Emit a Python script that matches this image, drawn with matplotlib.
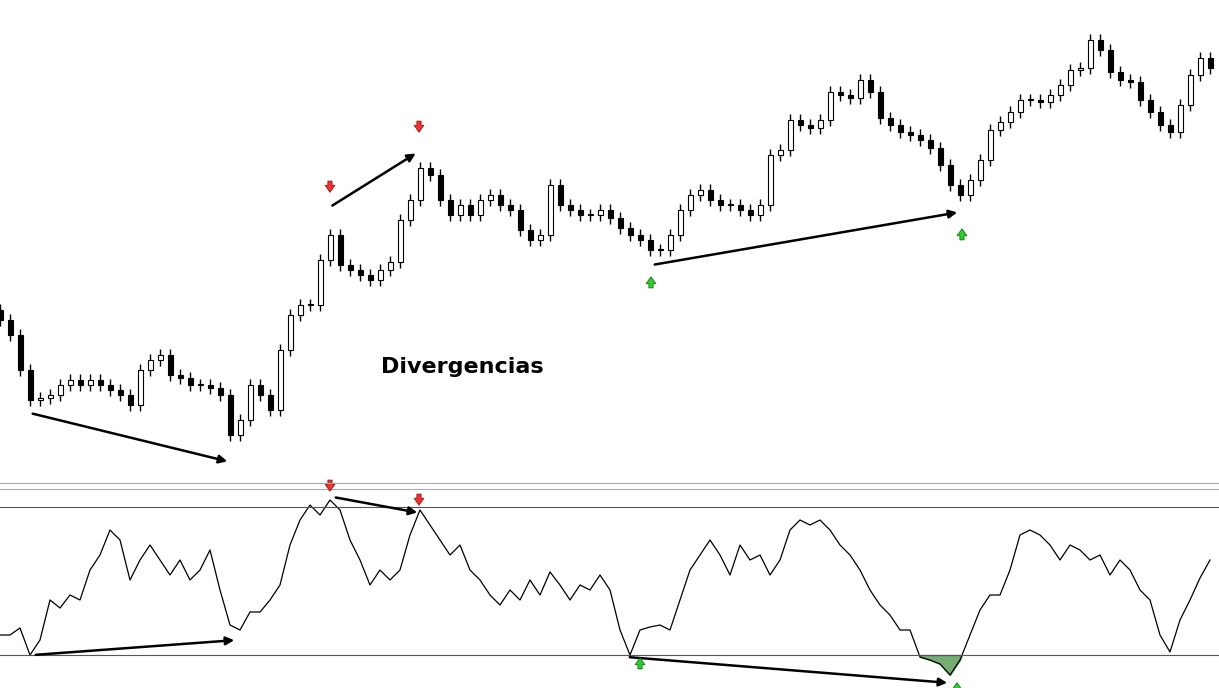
import numpy as np
import matplotlib
matplotlib.use("Agg")
import matplotlib.pyplot as plt

# --- DATA (one candle per step) ---
closes = [380, 365, 330, 300, 302, 305, 315, 320, 315, 320, 315, 310, 305, 295, 330, 340,
          345, 325, 322, 315, 315, 312, 305, 265, 280, 315, 305, 290, 350, 385, 395, 395,
          440, 465, 435, 430, 425, 420, 430, 438, 480, 500, 532, 525, 500, 485, 495, 485,
          500, 505, 495, 490, 470, 460, 465, 515, 495, 490, 485, 485, 490, 482, 472, 465,
          460, 450, 450, 465, 490, 505, 510, 500, 495, 495, 490, 485, 495, 545, 550, 580,
          575, 572, 580, 608, 605, 602, 620, 608, 582, 575, 568, 565, 560, 552, 535, 515,
          505, 520, 540, 570, 578, 588, 600, 600, 598, 605, 615, 630, 632, 660, 650, 628,
          620, 618, 600, 588, 575, 568, 595, 625, 642, 632]
osc = [53, 53, 60, 33, 48, 88, 80, 93, 88, 118, 133, 158, 148, 108, 128, 143,
       128, 113, 128, 108, 118, 138, 98, 63, 58, 76, 76, 88, 103, 143, 168, 183,
       173, 188, 178, 148, 128, 103, 118, 108, 118, 153, 178, 163, 148, 133, 143, 118,
       108, 93, 83, 98, 88, 108, 93, 116, 103, 88, 103, 98, 113, 98, 58, 33,
       58, 61, 63, 58, 88, 118, 133, 148, 133, 113, 143, 128, 133, 113, 128, 158,
       168, 163, 168, 158, 143, 133, 118, 98, 83, 73, 58, 58, 31, 28, 24, 13,
       28, 53, 78, 93, 93, 118, 153, 158, 153, 143, 128, 143, 138, 128, 133, 113,
       128, 118, 98, 88, 53, 36, 68, 88, 110, 128]
upper_level, lower_level = 181, 33
wick = 6

n = len(closes)
x = np.arange(n)
closes = np.array(closes, float)
opens = np.r_[closes[0] + 10, closes[:-1]]
osc = np.array(osc, float)

fig = plt.figure(figsize=(12.19, 6.88), dpi=100)
ax = fig.add_axes([0, 1 - 482 / 688, 1, 482 / 688])
ax2 = fig.add_axes([0, 0, 1, 200 / 688])
for a in (ax, ax2):
    a.set_xlim(0, n - 0.1)
    a.axis("off")
ax.set_ylim(218, 700)
ax2.set_ylim(0, 200)

# candles
for i in x:
    o, c = opens[i], closes[i]
    lo, hi = min(o, c), max(o, c)
    ax.vlines(i, lo - wick, hi + wick, color="black", lw=1, zorder=1)
    ax.bar(i, max(hi - lo, 1), bottom=lo, width=0.5,
           color="white" if c >= o else "black", edgecolor="black", lw=0.8, zorder=2)

def arrow(a, p0, p1):
    a.annotate("", xy=p1, xytext=p0,
               arrowprops=dict(arrowstyle="-|>", color="black", lw=1.8, mutation_scale=12))

def block(a, xy, up):
    col, ec = ("#33cc33", "#117711") if up else ("#ee3333", "#991111")
    d = -1 if up else 1
    a.annotate("", xy=xy, xytext=(0, 12 * d), textcoords="offset points",
               arrowprops=dict(arrowstyle="simple,head_width=0.7,head_length=0.5,tail_width=0.3",
                               fc=col, ec=ec, lw=0.6))

# divergence lines, price panel
arrow(ax, (3, 287), (23, 238))
arrow(ax, (33, 493), (41.8, 548))
arrow(ax, (65.2, 435), (96, 488))
block(ax, (33, 505), False)
block(ax, (41.9, 565), False)
block(ax, (65.1, 426), True)
block(ax, (96.2, 474), True)
ax.text(46.2, 333, "Divergencias", fontsize=16, fontweight="bold", ha="center", va="center")

# oscillator panel
ax2.plot(x, osc, color="black", lw=0.9)
ax2.axhline(upper_level, color="#555555", lw=0.8)
ax2.axhline(lower_level, color="#555555", lw=0.8)
ax2.axhline(199.5, color="#aaaaaa", lw=0.8)
ax2.fill_between(x, osc, lower_level, where=(osc < lower_level) & (x > 85),
                 interpolate=True, color="#3a8a3a", alpha=0.7)
arrow(ax2, (3.3, 33), (23.7, 48))
arrow(ax2, (33.3, 191), (42, 175))
arrow(ax2, (62.7, 31), (95, 5))
block(ax2, (33, 194), False)
block(ax2, (41.9, 180), False)
block(ax2, (64, 33), True)
block(ax2, (95.7, 8), True)

fig.add_artist(plt.Line2D([0, 1], [1 - 483 / 688] * 2, color="#aaaaaa", lw=0.8))
fig.savefig("out.png", dpi=100)
